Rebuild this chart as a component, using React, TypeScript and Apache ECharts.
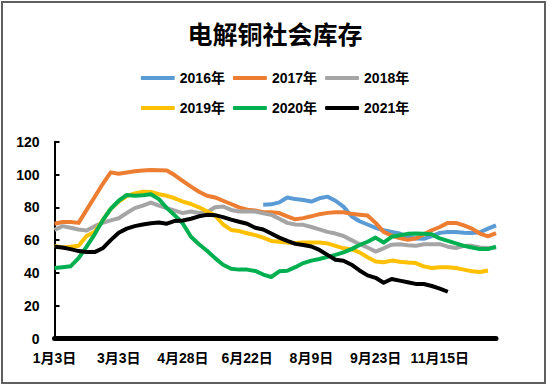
import React, { useEffect, useRef } from "react";
import * as echarts from "echarts";

const tickLabels = ["1月3日", "3月3日", "4月28日", "6月22日", "8月9日", "9月23日", "11月15日"];
const pointCount = 56;
const labelEvery = 8;

const seriesNames = ["2016年", "2017年", "2018年", "2019年", "2020年", "2021年"];
const seriesColors = ["#5B9BD5", "#ED7D31", "#A5A5A5", "#FFC000", "#00B050", "#000000"];

const s2016: (number | null)[] = [
  null, null, null, null, null, null, null, null, null, null,
  null, null, null, null, null, null, null, null, null, null,
  null, null, null, null, null, null,
  81.5, 81.8, 83, 86, 85, 84.5, 83.5, 85.5, 86.5, 84,
  80.4, 74.5, 71.5, 69.5, 67.5, 66, 65, 64, 62, 61,
  60.8, 62.5, 64.4, 65, 65, 64.5, 64.4, 64.8, 67, 69,
];
const s2017: (number | null)[] = [
  70, 71, 71, 70.5, 78.4, 86.3, 94.2, 101.3, 100.5, 101.2,
  102, 102.5, 102.8, 102.6, 102.4, 99.5, 96, 92.6, 89.5, 87,
  86, 84, 82, 80, 78.5, 78, 77, 77, 76.5, 74.5,
  72.7, 73.4, 74.5, 75.8, 76.6, 77, 77, 76, 75.5, 75,
  70.5, 65, 62.8, 61.2, 60.2, 61, 63.5, 66, 68, 70.5,
  70.5, 69, 67, 64, 62.3, 64.3,
];
const s2018: (number | null)[] = [
  66.2, 68.5, 67.5, 66.5, 65.8, 68.5, 70.5, 72, 73.3, 76.5,
  79.5, 81, 82.9, 81, 79.5, 78, 76.5, 77.4, 76.5, 77,
  80, 80.5, 78.4, 77.4, 77.4, 77.4, 76.3, 75.5, 73, 70.5,
  69.5, 69.3, 68, 66.5, 65, 64, 62.5, 60, 57.5, 55.5,
  53, 55, 57.2, 57.5, 56.8, 56.5, 57.5, 57.5, 57.5, 56,
  55.2, 56.5, 56.5, 55.5, 55.2, 55.5,
];
const s2019: (number | null)[] = [
  56.5, 55.5, 56, 56.5, 62.5, 65, 72, 79, 83.5, 86.8,
  88.5, 89.5, 89.4, 88, 87, 85.5, 83.5, 82, 80, 77.5,
  75, 69.5, 66.2, 65.5, 64.2, 63, 61.5, 59.5, 59, 58.5,
  58.2, 58.5, 58.5, 58.5, 58, 56.5, 55, 54.5, 52.5, 49.5,
  47, 46.5, 47.5, 46.8, 46.3, 46, 44, 43, 43.5, 43.5,
  43, 42, 41, 40.5, 41.5, null,
];
const s2020: (number | null)[] = [
  43, 43.5, 44, 49, 56, 63.5, 72, 79, 84, 87.5,
  87, 87.3, 88, 85, 79.5, 75, 70, 62, 57.5, 53.5,
  49, 45, 42.5, 42, 42, 41.2, 39, 37.5, 41, 41.3,
  43.5, 46, 47.5, 48.5, 49.8, 51, 52.5, 54.5, 57, 59,
  61.5, 58.5, 62, 63, 63.8, 64, 63.8, 63.5, 61, 59.5,
  58, 56.5, 55.5, 54.5, 54.5, 56,
];
const s2021: (number | null)[] = [
  56, 55.5, 54.5, 53.3, 52.7, 52.7, 55, 60, 64.5, 67,
  68.5, 69.5, 70.3, 70.7, 70, 71.7, 72, 73, 74.5, 75.4,
  75.2, 74, 72.5, 71.2, 70, 67.5, 66.5, 64, 61.5, 59.5,
  57.7, 57, 56.1, 54, 51, 48, 47.4, 45, 41.5, 38.5,
  37, 34, 36.3, 35.3, 34.3, 33.3, 33.2, 32, 30.4, 28.5,
];

const seriesData = [s2016, s2017, s2018, s2019, s2020, s2021];

const labelFont = "'Liberation Sans', Arial, 'Noto Sans CJK SC', sans-serif";

export default function App() {
  const ref = useRef<HTMLDivElement>(null);

  useEffect(() => {
    if (!ref.current) return;
    const chart = echarts.init(ref.current, undefined, { renderer: "svg" });
    const categories = Array.from({ length: pointCount }, (_, i) => `p${i}`);

    const legendCommon = {
      left: "center",
      orient: "horizontal" as const,
      padding: 0,
      itemWidth: 34,
      itemHeight: 4,
      itemGap: 8,
      icon: "roundRect",
      textStyle: {
        fontSize: 14,
        fontWeight: "bold" as const,
        color: "#000",
        fontFamily: labelFont,
        padding: [0, 0, 0, 0],
      },
    };

    chart.setOption({
      animation: false,
      backgroundColor: "#ffffff",
      title: {
        text: "电解铜社会库存",
        left: "center",
        top: 20,
        padding: 0,
        textStyle: {
          fontSize: 25,
          fontWeight: "bold",
          color: "#000",
          fontFamily: "'Noto Sans CJK SC', sans-serif",
        },
      },
      legend: [
        { ...legendCommon, top: 71, data: seriesNames.slice(0, 3) },
        { ...legendCommon, top: 101, data: seriesNames.slice(3, 6) },
      ],
      graphic: [
        {
          type: "rect",
          shape: { x: 2, y: 2, width: 543, height: 381 },
          style: { fill: "none", stroke: "#5f5f5f", lineWidth: 2 },
          silent: true,
          z: 100,
        },
      ],
      grid: { left: 54.5, right: 54, top: 141.7, bottom: 47.5, containLabel: false },
      xAxis: {
        type: "category",
        data: categories,
        boundaryGap: false,
        axisLine: { show: true, lineStyle: { color: "#000", width: 5 } },
        axisTick: { show: false },
        splitLine: { show: false },
        axisLabel: {
          interval: labelEvery - 1,
          formatter: (_v: string, idx: number) =>
            idx % labelEvery === 0 ? tickLabels[idx / labelEvery] ?? "" : "",
          margin: 12,
          fontSize: 14,
          fontWeight: "bold",
          color: "#000",
          fontFamily: labelFont,
        },
        z: 5,
      },
      yAxis: {
        type: "value",
        min: 0,
        max: 120,
        interval: 20,
        axisLine: { show: true, lineStyle: { color: "#000", width: 2 } },
        axisTick: { show: true, inside: true, length: 5, lineStyle: { color: "#000", width: 2 } },
        splitLine: { show: false },
        axisLabel: {
          margin: 15,
          fontSize: 14,
          fontWeight: "bold",
          color: "#000",
          fontFamily: labelFont,
        },
      },
      series: seriesNames.map((name, k) => ({
        name,
        type: "line",
        data: seriesData[k],
        showSymbol: false,
        symbol: "none",
        connectNulls: false,
        color: seriesColors[k],
        lineStyle: { width: 4, color: seriesColors[k], cap: "butt", join: "round" },
        z: 2 + k,
      })),
    });

    return () => chart.dispose();
  }, []);

  return (
    <div
      ref={ref}
      style={{ position: "fixed", left: 0, top: 0, width: 550, height: 386, background: "#fff" }}
    />
  );
}
